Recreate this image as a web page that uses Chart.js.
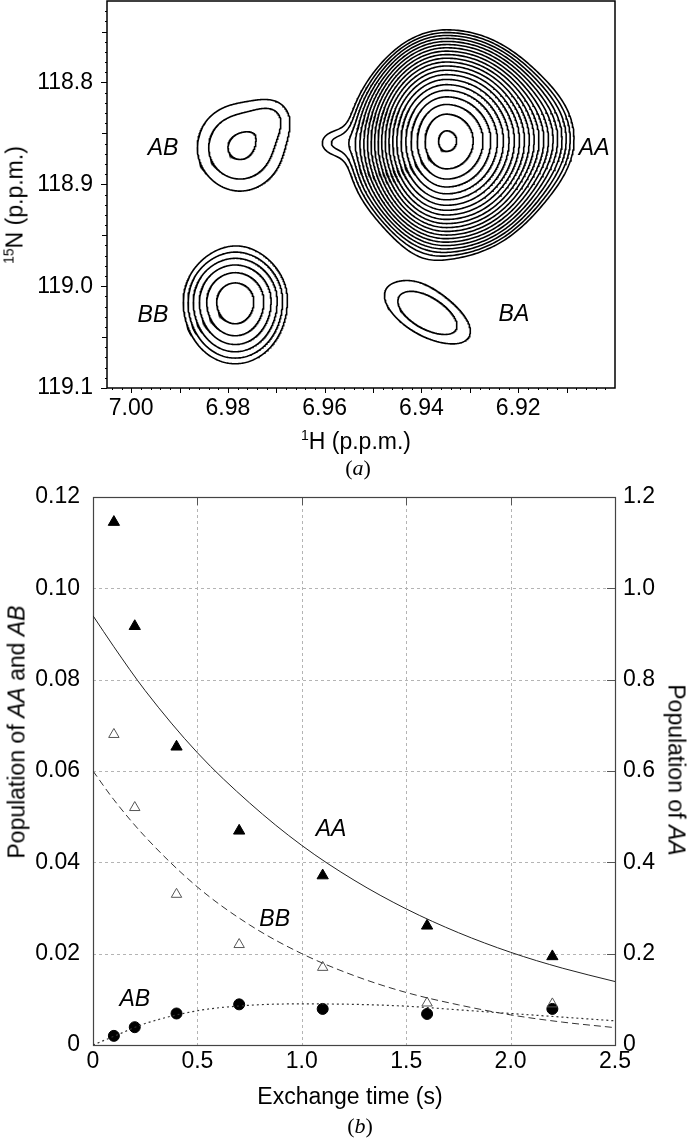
<!DOCTYPE html>
<html><head><meta charset="utf-8">
<script src="https://cdn.jsdelivr.net/npm/chart.js@4.4.1/dist/chart.umd.min.js"></script>
<style>
html,body{margin:0;padding:0;background:#fff;}
#wrap{position:relative;width:692px;height:1139px;overflow:hidden;font-family:"Liberation Sans",Arial,sans-serif;color:#000;background:#fff;}
canvas{position:absolute;left:0;}
.t{position:absolute;white-space:nowrap;font-size:23px;line-height:1;transform:translate(-50%,-50%);}
.rl{transform:translate(-50%,-50%) rotate(-90deg);}
.rr{transform:translate(-50%,-50%) rotate(90deg);}
.sup{font-size:14px;position:relative;top:-9px;}
.cap{font-family:"Liberation Serif","Times New Roman",serif;font-size:22px;}
</style></head><body>
<div id="wrap">
<canvas id="c1" width="692" height="440" style="top:0;width:692px;height:440px"></canvas>
<canvas id="c2" width="692" height="699" style="top:440px;width:692px;height:699px"></canvas>
<div class="t rl" style="left:15px;top:205px"><span class="sup">15</span>N (p.p.m.)</div>
<div class="t" style="left:356px;top:441px"><span class="sup">1</span>H (p.p.m.)</div>
<div class="t cap" style="left:358px;top:468px">(<i>a</i>)</div>
<div class="t rl" style="left:17px;top:732px">Population of <i>AA</i> and <i>AB</i></div>
<div class="t rr" style="left:676px;top:770px">Population of <i>AA</i></div>
<div class="t" style="left:350px;top:1096px">Exchange time (s)</div>
<div class="t cap" style="left:360px;top:1126px">(<i>b</i>)</div>
</div>
<script>
// ---------------- Panel (a): 1H-15N spectrum (peak components) ----------------
const hTicks = [7.00, 6.98, 6.96, 6.94, 6.92];
const nTicks = [118.8, 118.9, 119.0, 119.1];
const peakH       = [6.9348, 6.9155, 6.9517, 6.9585, 6.9775, 6.9697, 6.9785, 6.9387];
const peakN       = [118.8573, 118.8548, 118.8666, 118.8592, 118.8636, 118.8293, 119.0153, 119.0274];
const peakAmp     = [39.5, 1.37, 0.7, 0.7, 1.485, 0.35, 2.834, 1.405];
const widthHLeft  = [0.00682, 0.0062, 0.00413, 0.00289, 0.00992, 0.00372, 0.00742, 0.01065];
const widthHRight = [0.00837, 0.0062, 0.00413, 0.00289, 0.00992, 0.00372, 0.00742, 0.01065];
const widthNUp    = [0.0402, 0.0343, 0.0441, 0.0137, 0.0471, 0.0176, 0.0348, 0.0355];
const widthNDown  = [0.0422, 0.0343, 0.0441, 0.0137, 0.0471, 0.0176, 0.0422, 0.0355];
const peakCorr    = [0, 0, 0, 0, 0, 0, 0, -0.58];
const contourLevels = [1, 1.2, 1.44, 1.728, 2.074, 2.488, 2.986, 3.583, 4.300, 5.160, 6.192,
                       7.430, 8.916, 10.70, 12.84, 15.41, 18.49, 22.19, 26.62, 31.95, 38.34];
const crossPeaks  = [0, 4, 6, 7];          // main component of AA, AB, BB, BA
const specLabels  = ['AB', 'AA', 'BB', 'BA'];
const specLabelH  = [6.9934, 6.9043, 6.9955, 6.9209];
const specLabelN  = [118.8646, 118.8646, 119.0293, 119.0283];

// ---------------- Panel (b): exchange build-up ----------------
const timeTicks = [0, 0.5, 1.0, 1.5, 2.0, 2.5];
const popTicks  = [0, 0.02, 0.04, 0.06, 0.08, 0.10, 0.12];
const aaTicks   = [0, 0.2, 0.4, 0.6, 0.8, 1.0, 1.2];
const exchangeTime = [0.1, 0.2, 0.4, 0.7, 1.1, 1.6, 2.2];
const popAA = [1.145, 0.917, 0.653, 0.469, 0.371, 0.261, 0.194];   // right axis
const popBB = [0.068, 0.052, 0.033, 0.022, 0.017, 0.0092, 0.009];
const popAB = [0.002, 0.0039, 0.0069, 0.0089, 0.0079, 0.0068, 0.0079];
const fitTime = [0, 0.1, 0.25, 0.5, 0.75, 1.0, 1.25, 1.5, 1.75, 2.0, 2.25, 2.5];
const fitAA = [0.94, 0.872, 0.776, 0.640, 0.530, 0.437, 0.361, 0.298, 0.246, 0.203, 0.168, 0.139];
const fitBB = [0.060, 0.0537, 0.0456, 0.0346, 0.0263, 0.0200, 0.0152, 0.0115, 0.0088, 0.0066, 0.0050, 0.0038];
const fitAB = [0.0, 0.0019, 0.0047, 0.0075, 0.0087, 0.0090, 0.0089, 0.0085, 0.0077, 0.0069, 0.0061, 0.0053];
const curveLabels = ['AA', 'BB', 'AB'];
const curveLabelX = [1.14, 0.87, 0.20];
const curveLabelY = [0.0472, 0.0275, 0.0099];

const FAM = '"Liberation Sans", Arial, sans-serif';
Chart.defaults.font.family = FAM;
Chart.defaults.color = '#000';

// ---- contour tracing from the peak list ----
function field(h, n) {
  let s = 0;
  for (let i = 0; i < peakH.length; i++) {
    const dh = h - peakH[i], dn = n - peakN[i];
    const sh = dh >= 0 ? widthHLeft[i] : widthHRight[i];
    const sn = dn >= 0 ? widthNDown[i] : widthNUp[i];
    const a = dh / sh, b = dn / sn, r = peakCorr[i];
    s += peakAmp[i] * Math.exp(-0.5 * (a * a - 2 * r * a * b + b * b) / (1 - r * r));
  }
  return s;
}
const SH = 0.0002, SN = 0.00098;
function traceContour(ci, level) {
  const h0 = peakH[ci], n0 = peakN[ci], pts = [], NR = 360;
  for (let j = 0; j <= NR; j++) {
    const th = 2 * Math.PI * (j % NR) / NR, ux = Math.cos(th) * SH, uy = Math.sin(th) * SN;
    let r = 0, prev = Infinity;
    while (r < 200) {
      const f = field(h0 + ux * r, n0 + uy * r);
      if (f < level || (r > 15 && f > prev + 1e-9)) break;
      prev = f; r += 1;
    }
    let lo = Math.max(0, r - 1), hi = r;
    for (let k = 0; k < 14; k++) {
      const m = (lo + hi) / 2;
      if (field(h0 + ux * m, n0 + uy * m) >= level) lo = m; else hi = m;
    }
    const rr = (lo + hi) / 2;
    pts.push({ x: h0 + ux * rr, y: n0 + uy * rr });
  }
  return pts;
}
const contourSets = [];
crossPeaks.forEach(ci => {
  const top = field(peakH[ci], peakN[ci]);
  contourLevels.forEach(L => {
    if (L < top) contourSets.push({
      data: traceContour(ci, L), showLine: true, pointRadius: 0, borderColor: '#000',
      borderWidth: 1.6, fill: false, tension: 0
    });
  });
});

function fixedTicks(arr) { return s => { s.ticks = arr.map(v => ({ value: v })); }; }
function fitSize(w, h) {
  return s => {
    if (w !== null) s.width = w;
    if (h !== null) s.height = h;
    s.paddingTop = 0; s.paddingBottom = 0; s.paddingLeft = 0; s.paddingRight = 0;
  };
}

const specPlugin = {
  id: 'spec',
  beforeDatasetsDraw(chart) {
    const { ctx, chartArea: a, scales: { x, y } } = chart;
    ctx.save();
    ctx.strokeStyle = '#000'; ctx.lineWidth = 1;
    ctx.beginPath();
    for (let k = 0; k <= 52; k++) {            // bottom axis ticks
      const v = 7.004 - k * 0.002; if (v < 6.9) break;
      const px = Math.round(x.getPixelForValue(v)) + 0.5;
      const major = Math.abs(v * 100 - Math.round(v * 100)) < 1e-6;
      ctx.moveTo(px, a.bottom); ctx.lineTo(px, a.bottom + (major ? 5 : 2));
    }
    for (let k = 0; k <= 38; k++) {            // left axis ticks
      const v = 118.73 + k * 0.01; if (v > 119.1001) break;
      const py = Math.round(y.getPixelForValue(v)) + 0.5;
      const m10 = Math.abs(v * 10 - Math.round(v * 10)) < 1e-6;
      const m5 = Math.abs(v * 20 - Math.round(v * 20)) < 1e-6;
      ctx.moveTo(a.left, py); ctx.lineTo(a.left - (m10 ? 6 : m5 ? 5 : 2), py);
    }
    ctx.stroke();
    ctx.lineWidth = 1.5;
    ctx.strokeRect(a.left, a.top, a.right - a.left, a.bottom - a.top);
    ctx.restore();
  },
  afterDatasetsDraw(chart) {
    const { ctx, scales: { x, y } } = chart;
    ctx.save();
    ctx.font = 'italic 23px ' + FAM; ctx.fillStyle = '#000';
    ctx.textAlign = 'center'; ctx.textBaseline = 'middle';
    specLabels.forEach((t, i) => ctx.fillText(t, x.getPixelForValue(specLabelH[i]), y.getPixelForValue(specLabelN[i])));
    ctx.restore();
  }
};

new Chart(document.getElementById('c1'), {
  type: 'scatter',
  data: { datasets: contourSets },
  options: {
    responsive: false, animation: false, devicePixelRatio: 1, events: [],
    layout: { padding: { top: 1, right: 77, left: 0, bottom: 0 } },
    plugins: { legend: { display: false }, tooltip: { enabled: false } },
    scales: {
      x: {
        type: 'linear', reverse: true, min: 6.90, max: 7.005,
        afterBuildTicks: fixedTicks(hTicks), afterFit: fitSize(null, 52),
        ticks: { callback: v => Number(v).toFixed(2), font: { size: 23 }, padding: 7, maxRotation: 0, autoSkip: false },
        grid: { display: false, drawTicks: false, tickLength: 0 }, border: { display: false }
      },
      y: {
        type: 'linear', reverse: true, min: 118.72, max: 119.1,
        afterBuildTicks: fixedTicks(nTicks), afterFit: fitSize(107, null),
        ticks: { callback: v => Number(v).toFixed(1), font: { size: 23 }, padding: 14, autoSkip: false },
        grid: { display: false, drawTicks: false, tickLength: 0 }, border: { display: false }
      }
    }
  },
  plugins: [specPlugin]
});

// ---------------- chart (b) ----------------
const pts = (xs, ys) => xs.map((t, i) => ({ x: t, y: ys[i] }));
const exPlugin = {
  id: 'ex',
  beforeDatasetsDraw(chart) {
    const { ctx, chartArea: a, scales: { x, y, y1 } } = chart;
    ctx.save();
    ctx.strokeStyle = '#b4b4b4'; ctx.lineWidth = 1; ctx.setLineDash([3, 3]);
    ctx.beginPath();
    timeTicks.slice(1, -1).forEach(v => { const px = Math.round(x.getPixelForValue(v)) + 0.5; ctx.moveTo(px, a.top); ctx.lineTo(px, a.bottom); });
    popTicks.slice(1, -1).forEach(v => { const py = Math.round(y.getPixelForValue(v)) + 0.5; ctx.moveTo(a.left, py); ctx.lineTo(a.right, py); });
    ctx.stroke();
    ctx.setLineDash([]);
    ctx.strokeStyle = '#555';
    ctx.beginPath();
    timeTicks.slice(1, -1).forEach(v => { const px = Math.round(x.getPixelForValue(v)) + 0.5; ctx.moveTo(px, a.top); ctx.lineTo(px, a.top + 8); });
    aaTicks.slice(1, -1).forEach(v => { const py = Math.round(y1.getPixelForValue(v)) + 0.5; ctx.moveTo(a.right, py); ctx.lineTo(a.right - 8, py); });
    ctx.stroke();
    ctx.strokeStyle = '#444'; ctx.lineWidth = 1.2;
    ctx.strokeRect(a.left + 0.5, a.top + 0.5, a.right - a.left, a.bottom - a.top);
    ctx.restore();
  },
  afterDatasetsDraw(chart) {
    const { ctx, scales: { x, y } } = chart;
    ctx.save();
    ctx.font = 'italic 23px ' + FAM; ctx.fillStyle = '#000';
    ctx.textAlign = 'center'; ctx.textBaseline = 'middle';
    curveLabels.forEach((t, i) => ctx.fillText(t, x.getPixelForValue(curveLabelX[i]), y.getPixelForValue(curveLabelY[i])));
    ctx.restore();
  }
};

new Chart(document.getElementById('c2'), {
  type: 'scatter',
  data: {
    datasets: [
      { label: 'AA fit', data: pts(fitTime, fitAA), yAxisID: 'y1', showLine: true, pointRadius: 0,
        borderColor: '#222', borderWidth: 1, cubicInterpolationMode: 'monotone' },
      { label: 'BB fit', data: pts(fitTime, fitBB), yAxisID: 'y', showLine: true, pointRadius: 0,
        borderColor: '#333', borderWidth: 1, borderDash: [7, 4], cubicInterpolationMode: 'monotone' },
      { label: 'AB fit', data: pts(fitTime, fitAB), yAxisID: 'y', showLine: true, pointRadius: 0,
        borderColor: '#333', borderWidth: 1.2, borderDash: [2, 3], cubicInterpolationMode: 'monotone' },
      { label: 'BB', data: pts(exchangeTime, popBB), yAxisID: 'y', pointStyle: 'triangle', pointRadius: 6,
        backgroundColor: 'rgba(255,255,255,0)', borderColor: '#555', borderWidth: 1 },
      { label: 'AA', data: pts(exchangeTime, popAA), yAxisID: 'y1', pointStyle: 'triangle', pointRadius: 6.5,
        backgroundColor: '#000', borderColor: '#000', borderWidth: 1 },
      { label: 'AB', data: pts(exchangeTime, popAB), yAxisID: 'y', pointStyle: 'circle', pointRadius: 5.5,
        backgroundColor: '#000', borderColor: '#000', borderWidth: 1 }
    ]
  },
  options: {
    responsive: false, animation: false, devicePixelRatio: 1, events: [],
    layout: { padding: { top: 57, right: 0, left: 0, bottom: 0 } },
    plugins: { legend: { display: false }, tooltip: { enabled: false } },
    scales: {
      x: {
        type: 'linear', min: 0, max: 2.5, afterBuildTicks: fixedTicks(timeTicks), afterFit: fitSize(null, 94),
        ticks: { callback: v => v === 0 ? '0' : Number(v).toFixed(1), font: { size: 23 }, padding: 3, maxRotation: 0, autoSkip: false },
        grid: { display: false, drawTicks: false, tickLength: 0 }, border: { display: false }
      },
      y: {
        type: 'linear', position: 'left', min: 0, max: 0.12, afterBuildTicks: fixedTicks(popTicks), afterFit: fitSize(93, null),
        ticks: { callback: v => v === 0 ? '0' : Number(v).toFixed(2), font: { size: 23 }, padding: 13, autoSkip: false },
        grid: { display: false, drawTicks: false, tickLength: 0 }, border: { display: false }
      },
      y1: {
        type: 'linear', position: 'right', min: 0, max: 1.2, afterBuildTicks: fixedTicks(aaTicks), afterFit: fitSize(77, null),
        ticks: { callback: v => v === 0 ? '0' : Number(v).toFixed(1), font: { size: 23 }, padding: 8, autoSkip: false },
        grid: { display: false, drawTicks: false, tickLength: 0 }, border: { display: false }
      }
    }
  },
  plugins: [exPlugin]
});
</script>
</body></html>
